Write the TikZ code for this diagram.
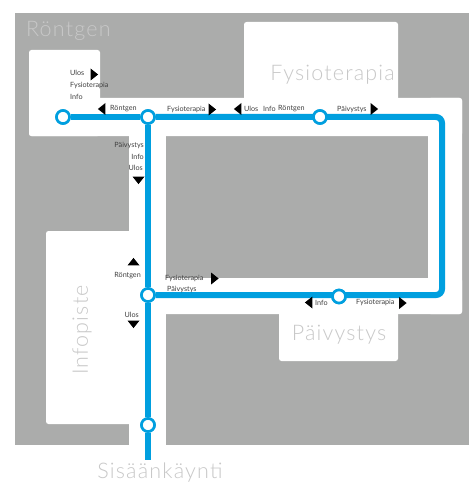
\documentclass[tikz,border=0pt]{standalone}
\usepackage{fontspec}
\setmainfont{Lato}
\newfontfamily\roomfont[LetterSpace=5.5]{Lato Light}
\usetikzlibrary{shapes.geometric}
\definecolor{wallColour}{HTML}{ABACAB}
\definecolor{lineColour}{HTML}{009FDF}
\definecolor{roomColour}{HTML}{C8C8C8}
\tikzset{
    room/.style={fill=white, rounded corners=2.5pt},
    roomlabel/.style={text=roomColour, font=\roomfont\fontsize{21.5}{22}\selectfont, inner sep=0pt},
    signlabel/.style={text=black!75, font=\fontsize{7.2}{7.5}\selectfont, inner sep=0pt},
    stop/.style={circle, draw=lineColour, fill=white, line width=2.6pt, minimum size=13pt, inner sep=0pt},
    tip/.style={isosceles triangle, isosceles triangle stretches, fill=black, minimum width=12pt, minimum height=7.5pt, inner sep=0pt},
    tipright/.style={tip},
    tipleft/.style={tip, rotate=180},
    tipup/.style={tip, rotate=90},
    tipdown/.style={tip, rotate=270},
    route/.style={draw=lineColour, line width=6pt}
}
\begin{document}
\begin{tikzpicture}[x=1pt,y=-1pt]
    \useasboundingbox (0,0) rectangle (469,484);

    % Draw floor plan
    \fill[wallColour] (15,13) rectangle (469,445);
    \fill[room] (29,50) rectangle (100,136);
    \fill[room] (244,22) rectangle (398,110);
    \fill[room] (279,300) rectangle (398,361);
    \fill[room] (46,231) rectangle (140,424);
    \fill[room] (29,98) rectangle (462,136);
    \fill[room] (428,98) rectangle (462,314);
    \fill[room] (129,278) rectangle (462,314);
    \fill[white] (129,120) rectangle (166,484);
    \fill[white] (0,445) rectangle (469,484);

    % Room names
    \node[roomlabel, anchor=west] (rontgenName) at (26,31) {Röntgen};
    \node[roomlabel, anchor=east] (fysioName) at (395,75) {Fysioterapia};
    \node[roomlabel] (paivystysName) at (339,335) {Päivystys};
    \node[roomlabel, rotate=90] (infoName) at (82,330) {Infopiste};
    \node[roomlabel] (entranceName) at (160,473) {Sisäänkäynti};

    % Stops
    \coordinate (corner1) at (442,117);
    \coordinate (corner2) at (442,295);
    \coordinate (lineEnd) at (148,460);
    \node[stop] (rontgenStop) at (63,117) {};
    \node[stop] (topJunction) at (148,117) {};
    \node[stop] (fysioStop) at (320,117) {};
    \node[stop] (infoJunction) at (148,295) {};
    \node[stop] (paivystysStop) at (339,296.5) {};
    \node[stop] (entranceStop) at (148,425) {};

    % Draw the route
    \draw[route, rounded corners=6pt] (topJunction) -- (corner1) -- (corner2) -- (infoJunction);
    \draw[route] (rontgenStop) -- (topJunction);
    \draw[route] (topJunction) -- (infoJunction);
    \draw[route] (infoJunction) -- (entranceStop);
    \draw[route] (entranceStop) -- (lineEnd);
    \foreach \s in {rontgenStop,topJunction,fysioStop,infoJunction,paivystysStop,entranceStop}
        \node[stop] at (\s) {};

    % Signs at the first junctions
    \node[signlabel, anchor=west] (s1) at (70,73) {Ulos};
    \node[tipright] (a1) at (93.5,74.5) {};
    \node[signlabel, anchor=west] (s2) at (70,85.5) {Fysioterapia};
    \node[signlabel, anchor=west] (s3) at (70,96.5) {Info};
    \node[tipleft] (a2) at (102.5,109) {};
    \node[signlabel, anchor=west] (s4) at (110,109) {Röntgen};
    \node[signlabel, anchor=west] (s5) at (167,109) {Fysioterapia};
    \node[tipright] (a3) at (211.5,109.5) {};
    \node[tipleft] (a4) at (238.5,109) {};
    \node[signlabel, anchor=west] (s6) at (244,109) {Ulos};
    \node[signlabel, anchor=west] (s7) at (263,109) {Info};
    \node[signlabel, anchor=west] (s8) at (278,109) {Röntgen};
    \node[signlabel, anchor=west] (s9) at (337,109) {Päivystys};
    \node[tipright] (a5) at (373.5,109) {};
    \node[signlabel, anchor=east] (s10) at (144,145.5) {Päivystys};
    \node[signlabel, anchor=east] (s11) at (144,156.5) {Info};
    \node[signlabel, anchor=east] (s12) at (143,168) {Ulos};
    \node[tipdown] (a6) at (138.5,179.5) {};

    % Signs at the lower junction
    \node[tipup] (a7) at (133.5,262.5) {};
    \node[signlabel, anchor=east] (s13) at (141,275.5) {Röntgen};
    \node[signlabel, anchor=west] (s14) at (165,278.5) {Fysioterapia};
    \node[tipright] (a8) at (214,278.5) {};
    \node[signlabel, anchor=west] (s15) at (167,289) {Päivystys};
    \node[signlabel, anchor=east] (s16) at (139,314.5) {Ulos};
    \node[tipdown] (a9) at (133.5,323.5) {};
    \node[tipleft] (a10) at (309.5,302.5) {};
    \node[signlabel, anchor=west] (s17) at (315,302.5) {Info};
    \node[signlabel, anchor=west] (s18) at (356,302.5) {Fysioterapia};
    \node[tipright] (a11) at (402,303) {};
\end{tikzpicture}
\end{document}
